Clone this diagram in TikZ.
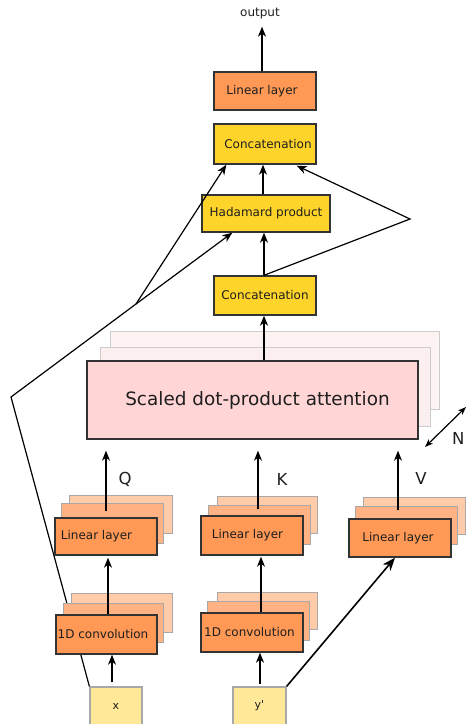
\documentclass[tikz,border=0pt]{standalone}
\usepackage{fontspec}
\setmainfont{DejaVu Sans}
\usetikzlibrary{arrows.meta,calc}

\definecolor{linfill}{HTML}{FF9955}
\definecolor{linback}{HTML}{FFB283}
\definecolor{linbackfar}{HTML}{FFCBA8}
\definecolor{catfill}{HTML}{FFD42A}
\definecolor{attfill}{HTML}{FFD5D5}
\definecolor{attback}{HTML}{FCEFEF}
\definecolor{infill}{HTML}{FFE999}
\definecolor{edge}{HTML}{333333}
\definecolor{softedge}{HTML}{A8A8A8}
\definecolor{ink}{HTML}{1E1E1E}

\begin{document}
\begin{tikzpicture}[x=1pt,y=-1pt,
  every node/.style={text=ink},
  box/.style={draw=edge, line width=1.4pt, inner sep=0pt, font=\fontsize{12}{14}\selectfont},
  linbox/.style={box, fill=linfill},
  catbox/.style={box, fill=catfill},
  attbox/.style={box, fill=attfill, font=\fontsize{18.4}{21}\selectfont},
  inbox/.style={draw=softedge, line width=1.2pt, fill=infill, inner sep=0pt, font=\fontsize{11}{13}\selectfont},
  backnear/.style={draw=softedge, line width=1pt, fill=linback},
  backfar/.style={draw=softedge, line width=1pt, fill=linbackfar},
  attbacknear/.style={draw=black!20, line width=1pt, fill=attback},
  attbackfar/.style={draw=black!20, line width=1pt, fill=attback!75},
  nudge/.style={execute at begin node={\hspace*{#1}}},
  wire/.style={draw=black, line width=1.2pt},
  arr/.style={wire, -{Stealth[length=10pt, width=8pt, inset=3pt]}},
  bigarr/.style={draw=black, line width=1.6pt, -{Stealth[length=13pt, width=10pt, inset=4pt]}},
  tag/.style={font=\fontsize{16.5}{19}\selectfont}]

\useasboundingbox (0,0) rectangle (467,724);

% skip connection from x, running behind the left column
\coordinate (bend) at (11,397);
\coordinate (fork) at (136,304);
\coordinate (apex) at (410,219);

% input boxes
\node[inbox, minimum width=52pt, minimum height=38pt] (xin) at (116,706) {x};
\node[inbox, minimum width=53pt, minimum height=38pt] (yin) at (259.5,706) {y\textquotesingle};

\draw[wire] (xin.north west) -- (bend) -- (fork);

% 1D convolutions (stacked copies)
\path[backfar]  (71,593) rectangle (172,632);
\path[backnear] (63,603) rectangle (163,642);
\node[linbox, minimum width=101pt, minimum height=39pt, nudge=-7pt] (qconv) at (106.5,634.5) {1D convolution};

\path[backfar]  (217,592) rectangle (317,629);
\path[backnear] (207,601) rectangle (309,640);
\node[linbox, minimum width=102pt, minimum height=39pt, nudge=-5pt] (kconv) at (252,632.5) {1D convolution};

% linear projections (stacked copies)
\path[backfar]  (69,495) rectangle (172,533);
\path[backnear] (61,503) rectangle (163,543);
\node[linbox, minimum width=102pt, minimum height=37pt, nudge=-19pt] (qlin) at (106,536.5) {Linear layer};

\path[backfar]  (217,496) rectangle (317,533);
\path[backnear] (208,505) rectangle (310,544);
\node[linbox, minimum width=102pt, minimum height=39pt, nudge=-9pt] (klin) at (252,535.5) {Linear layer};

\path[backfar]  (363,497) rectangle (465,534);
\path[backnear] (355,506) rectangle (457,544);
\node[linbox, minimum width=102pt, minimum height=38pt, nudge=-4pt] (vlin) at (400,538) {Linear layer};

% attention heads
\path[attbackfar]  (110,331) rectangle (439,409);
\path[attbacknear] (100,347) rectangle (430,426);
\node[attbox, minimum width=331pt, minimum height=78pt, nudge=10pt] (sdpa) at (252.5,400) {Scaled dot-product attention};

% upper blocks
\node[catbox, minimum width=102pt, minimum height=39pt] (catlow) at (265,295.5) {Concatenation};
\node[catbox, minimum width=128pt, minimum height=37pt] (had) at (266,213.5) {Hadamard product};
\node[catbox, minimum width=102pt, minimum height=40pt, nudge=6pt] (cattop) at (265,144) {Concatenation};
\node[linbox, minimum width=102pt, minimum height=38pt, nudge=-6pt] (toplin) at (265,91) {Linear layer};
\node[font=\fontsize{12}{14}\selectfont, inner sep=0pt] (out) at (260,14) {output};

% inputs to convolutions
\draw[arr, shorten <=4pt] ($(xin.north)+(-4,0)$) -- ($(qconv.south)+(5.5,0)$);
\draw[arr, shorten <=2pt] (yin.north -| 260,0) -- (kconv.south -| 260,0);
\draw[bigarr] (yin.north east) -- ($(vlin.south)+(-5,0)$);

% convolutions to linear layers
\draw[arr] (qconv.north -| 108,0) -- ($(qlin.south -| 108,0)+(0,2)$);
\draw[arr] (kconv.north -| 261,0) -- ($(klin.south -| 261,0)+(0,1)$);

% Q, K, V into attention
\draw[arr] ($(qlin.north)+(0,-6)$) -- ($(sdpa.south -| qlin.north)+(0,11)$);
\draw[arr] ($(klin.north -| 258,0)+(0,-6)$) -- ($(sdpa.south -| 258,0)+(0,11)$);
\draw[arr] ($(vlin.north -| 398,0)+(0,-8)$) -- ($(sdpa.south -| 398,0)+(0,11)$);
\node[tag] (qtag) at (125,479) {Q};
\node[tag] (ktag) at (282,479) {K};
\node[tag] (vtag) at (421,478) {V};

% number of heads
\coordinate (nlo) at (425,447);
\coordinate (nhi) at (466,407);
\draw[wire, {Stealth[length=8pt, width=6pt, inset=2pt]}-{Stealth[length=8pt, width=6pt, inset=2pt]}] (nlo) -- (nhi);
\node[tag, anchor=west, inner sep=0pt] (ntag) at (452,438) {N};

% upper stage
\draw[arr] (sdpa.north -| 264,0) -- (catlow.south -| 264,0);
\draw[arr] (catlow.north -| 264,0) -- (had.south -| 264,0);
\draw[arr] (had.north -| 263,0) -- (cattop.south -| 263,0);
\coordinate (outfoot) at ($(out.south -| 262,0)+(0,7)$);
\draw[arr] (toplin.north -| 262,0) -- (outfoot);

\draw[arr] (fork) -- ($(cattop.south west)+(13,0)$);
\draw[arr] (fork) -- ($(had.south west)+(31,0)$);
\draw[arr] (catlow.north -| 264,0) -- (apex) -- ($(cattop.south east)+(-20,1)$);

\end{tikzpicture}
\end{document}
